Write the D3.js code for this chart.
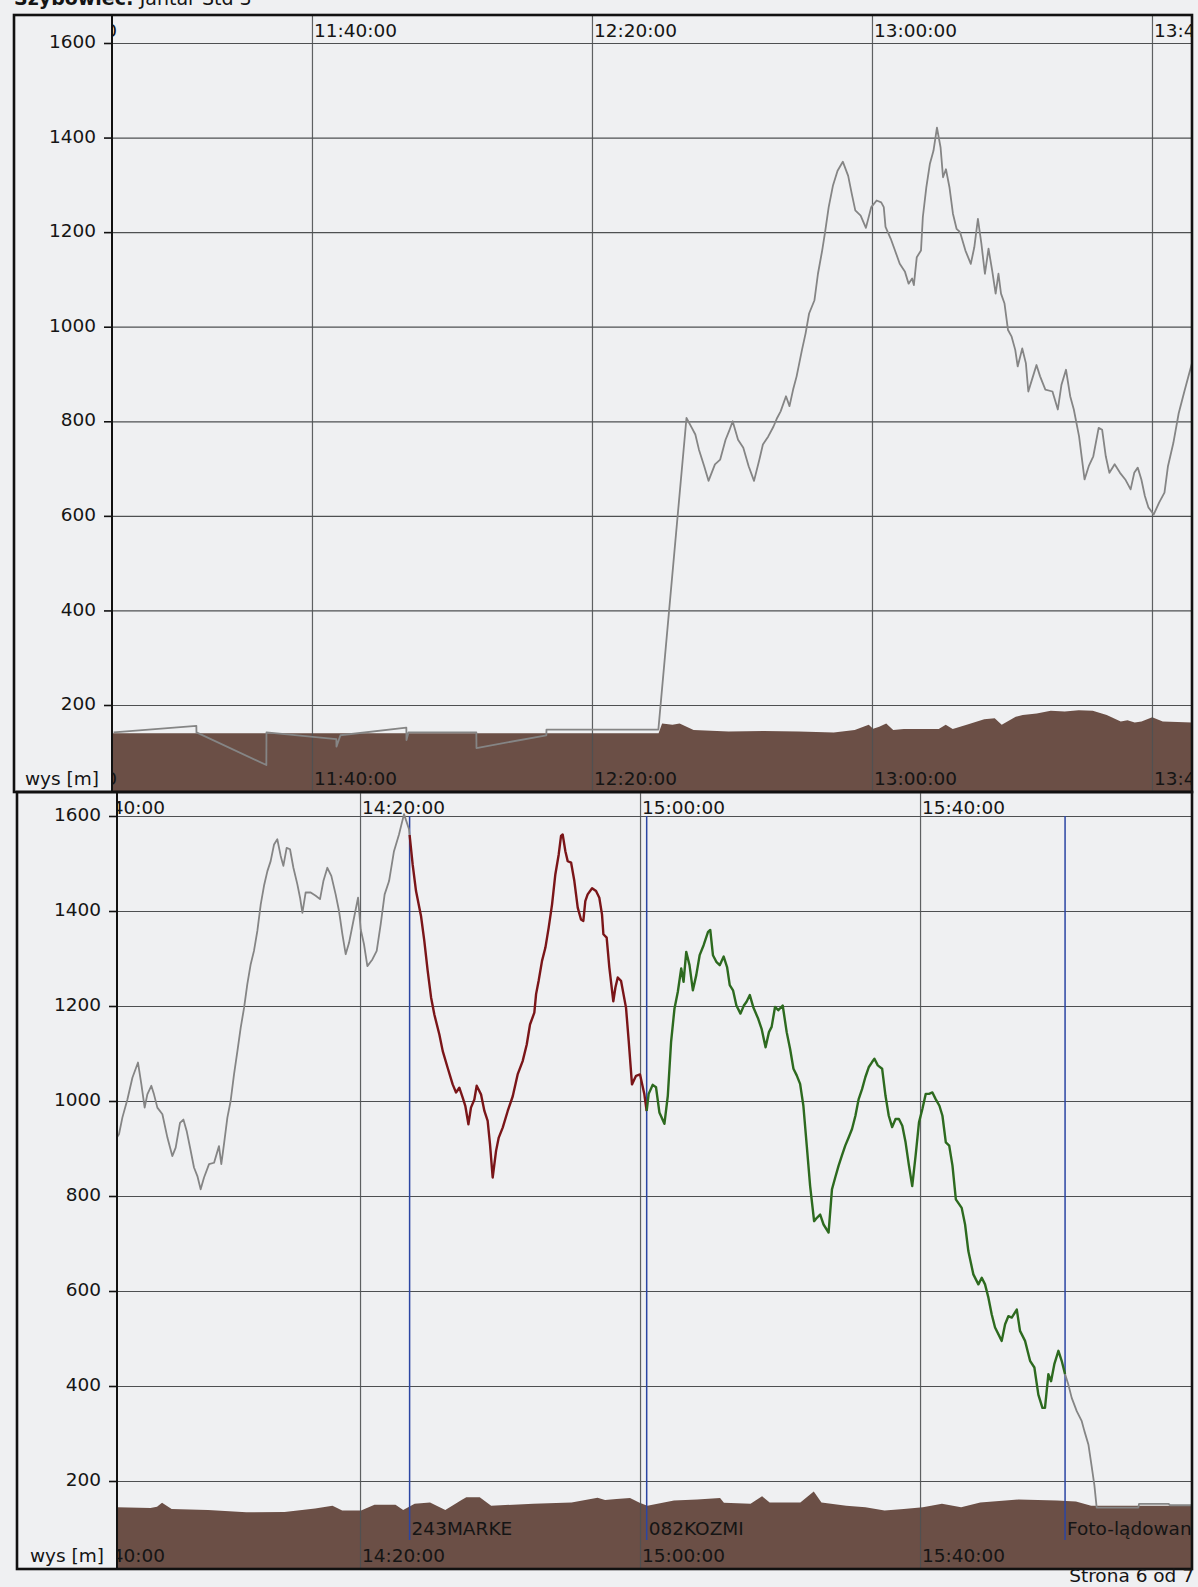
<!DOCTYPE html>
<html><head><meta charset="utf-8">
<script src="https://cdn.jsdelivr.net/npm/d3@7"></script>
<style>
html,body{margin:0;padding:0;background:#eff0f2;}
svg{display:block;}
text{font-family:"DejaVu Sans",sans-serif;fill:#151515;}
</style></head><body>
<svg id="chart" width="1198" height="1587"></svg>
<script>
// ---------------- DATA ----------------
const altTicks = [200, 400, 600, 800, 1000, 1200, 1400, 1600];
const topTimeTicks = ["11:00:00", "11:40:00", "12:20:00", "13:00:00", "13:40:00"];
const bottomTimeTicks = ["13:40:00", "14:20:00", "15:00:00", "15:40:00"];

// top panel: logger on ground, tow and flight (time, altitude m)
const topTrace = [
["11:11:40",142],["11:23:29",156],["11:23:30",142],["11:33:29",73],["11:33:30",142],["11:43:29",128],["11:43:30",112],["11:44:04",136],["11:53:29",152],["11:53:30",126],["11:53:47",142],["12:03:29",142],["12:03:30",109],["12:13:29",136],["12:13:30",148],["12:29:29",148],
["12:33:30",807],["12:34:16",786],["12:34:46",772],["12:35:17",740],["12:36:02",705],["12:36:39",674],["12:37:34",709],["12:38:19",719],["12:39:05",761],["12:39:35",779],["12:40:06",800],["12:40:52",761],["12:41:37",744],["12:42:23",705],["12:43:09",674],["12:43:55",719],["12:44:25",751],["12:45:11",768],["12:45:56",789],["12:46:27",807],["12:46:57",821],["12:47:43",853],["12:48:13",832],["12:48:44",867],["12:49:14",895],["12:50:00",951],["12:50:31",986],["12:51:01",1028],["12:51:47",1056],["12:52:17",1112],["12:52:53",1161],["12:53:18",1200],["12:53:49",1253],["12:54:25",1298],["12:55:05",1330],["12:55:50",1349],["12:56:36",1319],["12:57:07",1281],["12:57:37",1246],["12:58:23",1235],["12:59:08",1209],["12:59:54",1253],["13:00:40",1267],["13:01:19",1263],["13:01:41",1253],["13:01:56",1211],["13:02:41",1186],["13:03:12",1165],["13:03:58",1133],["13:04:43",1116],["13:05:14",1091],["13:05:44",1102],["13:05:59",1088],["13:06:24",1147],["13:07:00",1161],["13:07:16",1232],["13:07:46",1295],["13:08:16",1344],["13:08:47",1372],["13:09:17",1421],["13:09:48",1379],["13:10:09",1316],["13:10:34",1333],["13:11:04",1295],["13:11:34",1239],["13:12:05",1207],["13:12:35",1200],["13:13:21",1161],["13:14:07",1133],["13:14:37",1168],["13:15:08",1228],["13:15:38",1175],["13:16:08",1112],["13:16:39",1165],["13:17:10",1119],["13:17:40",1070],["13:18:04",1112],["13:18:26",1070],["13:18:56",1049],["13:19:26",993],["13:19:57",979],["13:20:28",951],["13:20:49",916],["13:21:28",954],["13:21:59",923],["13:22:20",863],["13:23:00",895],["13:23:30",919],["13:24:01",895],["13:24:46",867],["13:25:47",863],["13:26:33",825],["13:27:04",877],["13:27:43",909],["13:28:19",853],["13:28:50",825],["13:29:35",768],["13:30:22",677],["13:30:58",705],["13:31:37",726],["13:32:23",786],["13:32:53",782],["13:33:24",726],["13:33:55",691],["13:34:40",709],["13:35:26",691],["13:36:11",677],["13:36:57",656],["13:37:28",691],["13:37:58",702],["13:38:29",677],["13:38:59",642],["13:39:29",618],["13:40:15",603],["13:41:01",628],["13:41:47",649],["13:42:17",705],["13:43:03",754],["13:43:49",817],["13:44:34",860],["13:45:20",902],["13:45:45",925]
];

const topTerrain = [
["11:11:00",140],["12:29:31",140],["12:30:01",161],["12:31:30",158],["12:32:31",161],["12:34:31",147],["12:39:31",144],["12:44:32",145],["12:49:32",144],["12:54:32",142],["12:57:32",147],["12:59:32",158],["13:00:10",150],["13:01:02",154],["13:02:02",161],["13:03:02",147],["13:04:32",149],["13:09:32",149],["13:10:32",158],["13:11:32",149],["13:13:32",158],["13:16:02",170],["13:17:32",172],["13:18:32",158],["13:20:32",175],["13:21:32",179],["13:23:32",182],["13:25:32",188],["13:27:32",186],["13:29:32",189],["13:31:32",188],["13:33:32",179],["13:35:32",165],["13:36:30",168],["13:37:32",163],["13:38:30",165],["13:40:02",174],["13:41:32",165],["13:46:00",163]
];

// bottom panel segments
const bottomTraceStart = [
["13:45:20",925],["13:45:34",930],["13:46:03",965],["13:46:46",1003],["13:47:29",1049],["13:48:17",1081],["13:48:46",1035],["13:49:14",986],["13:49:37",1014],["13:50:11",1032],["13:50:34",1014],["13:51:03",986],["13:51:46",972],["13:52:29",923],["13:53:11",884],["13:53:40",902],["13:54:17",954],["13:54:46",961],["13:55:14",937],["13:55:43",902],["13:56:17",860],["13:56:46",842],["13:57:14",814],["13:57:43",839],["13:58:26",867],["13:59:09",870],["13:59:51",905],["14:00:11",867],["14:00:34",909],["14:01:03",965],["14:01:31",1000],["14:02:00",1056],["14:02:29",1105],["14:02:57",1154],["14:03:26",1196],["14:03:54",1246],["14:04:23",1288],["14:04:51",1316],["14:05:20",1358],["14:05:49",1414],["14:06:17",1453],["14:06:46",1484],["14:07:14",1505],["14:07:43",1540],["14:08:11",1551],["14:08:40",1516],["14:09:03",1495],["14:09:31",1533],["14:10:00",1530],["14:10:29",1491],["14:11:03",1456],["14:11:26",1428],["14:11:46",1396],["14:12:14",1439],["14:12:57",1439],["14:13:40",1432],["14:14:17",1425],["14:14:46",1463],["14:15:20",1491],["14:15:54",1474],["14:16:31",1435],["14:17:00",1400],["14:17:29",1351],["14:17:57",1309],["14:18:26",1333],["14:19:03",1379],["14:19:43",1428],["14:20:06",1361],["14:20:34",1330],["14:21:03",1284],["14:21:46",1298],["14:22:23",1316],["14:22:57",1372],["14:23:31",1435],["14:24:09",1463],["14:24:51",1526],["14:25:34",1561],["14:26:17",1604],["14:27:00",1572],["14:27:05",1560]
];

const legOneTrace = [
["14:27:05",1560],["14:27:31",1498],["14:28:00",1442],["14:28:43",1389],["14:29:11",1337],["14:29:40",1274],["14:30:09",1218],["14:30:37",1182],["14:31:20",1140],["14:31:49",1105],["14:32:31",1070],["14:33:14",1035],["14:33:43",1018],["14:34:11",1028],["14:34:40",1007],["14:35:03",989],["14:35:29",951],["14:35:51",986],["14:36:20",1003],["14:36:40",1032],["14:37:17",1014],["14:37:46",979],["14:38:14",958],["14:38:34",909],["14:38:57",839],["14:39:26",895],["14:39:49",923],["14:40:23",944],["14:41:06",979],["14:41:49",1010],["14:42:31",1056],["14:43:14",1084],["14:43:49",1119],["14:44:17",1161],["14:44:54",1186],["14:45:09",1225],["14:45:31",1253],["14:46:00",1295],["14:46:29",1323],["14:46:57",1365],["14:47:26",1414],["14:47:54",1477],["14:48:23",1519],["14:48:43",1558],["14:48:57",1561],["14:49:20",1526],["14:49:40",1505],["14:50:09",1502],["14:50:37",1463],["14:51:06",1407],["14:51:34",1382],["14:51:54",1379],["14:52:11",1421],["14:52:31",1435],["14:53:09",1448],["14:53:43",1442],["14:54:11",1428],["14:54:34",1393],["14:54:46",1351],["14:55:14",1344],["14:55:37",1281],["14:56:11",1210],["14:56:29",1239],["14:56:49",1260],["14:57:17",1253],["14:58:00",1196],["14:58:23",1126],["14:58:51",1035],["14:59:26",1053],["15:00:00",1056],["15:00:37",1014],["15:00:57",979]
];

const legTwoTrace = [
["15:00:57",979],["15:01:14",1015],["15:01:49",1034],["15:02:17",1029],["15:02:46",976],["15:03:29",952],["15:03:58",1011],["15:04:26",1124],["15:04:55",1194],["15:05:24",1230],["15:05:53",1279],["15:06:13",1251],["15:06:36",1314],["15:07:04",1286],["15:07:33",1233],["15:08:02",1265],["15:08:31",1307],["15:09:05",1328],["15:09:43",1356],["15:10:02",1360],["15:10:25",1307],["15:10:54",1293],["15:11:23",1286],["15:11:57",1304],["15:12:26",1282],["15:12:49",1244],["15:13:17",1233],["15:13:46",1201],["15:14:21",1184],["15:14:50",1201],["15:15:13",1209],["15:15:41",1223],["15:16:10",1198],["15:16:53",1173],["15:17:22",1152],["15:17:56",1113],["15:18:25",1145],["15:18:48",1156],["15:19:17",1198],["15:19:45",1191],["15:20:23",1201],["15:20:57",1145],["15:21:26",1110],["15:21:55",1068],["15:22:23",1054],["15:22:52",1036],["15:23:20",990],["15:23:49",906],["15:24:18",821],["15:24:52",747],["15:25:16",754],["15:25:44",761],["15:26:13",740],["15:26:56",723],["15:27:25",814],["15:27:53",839],["15:28:22",864],["15:28:50",885],["15:29:19",906],["15:29:48",923],["15:30:17",941],["15:30:46",969],["15:31:14",1004],["15:31:43",1025],["15:32:11",1050],["15:32:40",1071],["15:33:09",1082],["15:33:29",1089],["15:33:58",1075],["15:34:35",1068],["15:35:04",1011],["15:35:32",969],["15:36:01",945],["15:36:30",962],["15:36:59",962],["15:37:28",948],["15:37:56",913],["15:38:25",864],["15:38:53",821],["15:39:22",885],["15:39:51",955],["15:40:20",983],["15:40:49",1015],["15:41:17",1015],["15:41:46",1018],["15:42:14",1004],["15:42:46",990],["15:43:12",969],["15:43:41",913],["15:44:10",906],["15:44:38",864],["15:45:07",793],["15:45:57",775],["15:46:26",740],["15:46:54",684],["15:47:37",635],["15:48:20",614],["15:48:49",628],["15:49:17",614],["15:49:46",586],["15:50:14",551],["15:50:43",523],["15:51:40",495],["15:52:09",530],["15:52:37",547],["15:53:06",544],["15:53:49",561],["15:54:17",516],["15:55:00",495],["15:55:43",453],["15:56:20",439],["15:56:54",382],["15:57:29",354],["15:57:51",354],["15:58:20",425],["15:58:43",410],["15:59:11",446],["15:59:46",474],["16:00:14",453],["16:00:43",425]
];

const landingTrace = [
["16:00:43",425],["16:01:11",403],["16:01:40",375],["16:02:23",347],["16:03:06",326],["16:03:29",305],["16:04:03",277],["16:04:31",231],["16:04:54",192],["16:05:14",144],["16:11:11",144],["16:11:17",152],["16:15:29",152],["16:15:43",149],["16:19:00",149]
];

const bottomTerrain = [
["13:45:00",145],["13:50:04",143],["13:51:00",146],["13:51:43",154],["13:53:05",141],["13:58:17",139],["14:03:45",134],["14:09:13",135],["14:13:35",142],["14:16:04",148],["14:17:27",138],["14:20:09",138],["14:22:04",150],["14:25:04",150],["14:26:10",139],["14:27:48",152],["14:30:00",155],["14:32:11",139],["14:34:30",160],["14:35:11",166],["14:37:06",166],["14:38:44",148],["14:44:45",152],["14:50:13",155],["14:53:56",165],["14:55:00",160],["14:56:38",162],["14:58:34",164],["14:59:56",154],["15:01:03",148],["15:04:51",159],["15:08:09",161],["15:11:26",164],["15:11:59",154],["15:15:47",152],["15:17:26",168],["15:18:31",155],["15:22:54",155],["15:24:49",178],["15:25:55",155],["15:29:28",148],["15:32:12",145],["15:34:56",138],["15:37:40",141],["15:40:24",145],["15:43:08",152],["15:45:52",145],["15:48:36",155],["15:54:04",161],["15:59:32",159],["16:02:16",157],["16:04:27",148],["16:10:28",148],["16:19:30",148]
];

const markerNames = ["243MARKE", "082KOZMI", "Foto-lądowanie"];
const markerTimes = ["14:27:05", "15:00:57", "16:00:43"];

const headerBold = "Szybowiec:";
const headerText = " Jantar Std 3";
const yAxisTitle = "wys [m]";
const pageFooter = "Strona 6 od 7";

// ---------------- DRAWING ----------------
const parseT = d3.timeParse("%H:%M:%S");
const svg = d3.select("#chart");
const gridColor = "#4e5052";
const textSize = 18.5;

// keep only the characters of a text that fall inside [left, right] (the rest is clipped anyway)
function trimToPlot(sel, left, right) {
  sel.each(function () {
    const node = this;
    const full = node.textContent;
    const x0 = +node.getAttribute("x");
    const n = full.length;
    let start = 0;
    while (start < n && x0 + node.getSubStringLength(0, start + 1) <= left) start++;
    if (start >= n) { node.remove(); return; }
    let end = n;
    while (end > start + 1 && x0 + node.getSubStringLength(0, end - 1) >= right) end--;
    const newX = x0 + (start > 0 ? node.getSubStringLength(0, start) : 0);
    node.textContent = full.slice(start, end);
    node.setAttribute("x", newX);
  });
}

const panels = [
  { id: "top", outerLeft: 14, top: 15, bottom: 792, left: 112, right: 1192,
    timeDomain: ["11:11:26", "13:45:43"], y200: 705, y1600: 43,
    timeTicks: topTimeTicks, terrain: topTerrain,
    traces: [{ data: topTrace, color: "#858585", width: 1.8 }],
    markers: false },
  { id: "bot", outerLeft: 17, top: 792, bottom: 1569, left: 117, right: 1192,
    timeDomain: ["13:45:17", "16:18:51"], y200: 1481, y1600: 816,
    timeTicks: bottomTimeTicks, terrain: bottomTerrain,
    traces: [
      { data: bottomTraceStart, color: "#858585", width: 1.8 },
      { data: legOneTrace, color: "#7a1518", width: 2.4 },
      { data: legTwoTrace, color: "#2d6a1f", width: 2.4 },
      { data: landingTrace, color: "#858585", width: 1.8 }
    ],
    markers: true }
];

panels.forEach(cfg => {
  const x = d3.scaleTime().domain(cfg.timeDomain.map(parseT)).range([cfg.left, cfg.right]);
  const y = d3.scaleLinear().domain([200, 1600]).range([cfg.y200, cfg.y1600]);
  const w = cfg.right - cfg.left, h = cfg.bottom - cfg.top;
  const clipId = "clip-" + cfg.id;
  svg.append("clipPath").attr("id", clipId).append("rect")
    .attr("x", cfg.left).attr("y", cfg.top).attr("width", w).attr("height", h);
  const plot = svg.append("g").attr("clip-path", `url(#${clipId})`);

  // terrain
  const area = d3.area().x(d => x(parseT(d[0]))).y0(cfg.bottom).y1(d => y(d[1]));
  plot.append("path").datum(cfg.terrain).attr("d", area).attr("fill", "#6b4f46");

  // horizontal grid
  plot.append("g").attr("transform", `translate(${cfg.left},0)`)
    .call(d3.axisLeft(y).tickValues(altTicks).tickSize(-w).tickFormat(""))
    .call(a => a.select(".domain").remove())
    .selectAll("line").attr("stroke", gridColor).attr("stroke-width", 1.2);

  // vertical grid
  plot.append("g").attr("transform", `translate(0,${cfg.bottom})`)
    .call(d3.axisBottom(x).tickValues(cfg.timeTicks.map(parseT)).tickSize(-h).tickFormat(""))
    .call(a => a.select(".domain").remove())
    .selectAll("line").attr("stroke", gridColor).attr("stroke-width", 1.2).attr("stroke-opacity", 0.9);

  // markers
  if (cfg.markers) {
    const mk = plot.append("g");
    mk.selectAll("line").data(markerTimes).join("line")
      .attr("x1", d => x(parseT(d))).attr("x2", d => x(parseT(d)))
      .attr("y1", y(1600)).attr("y2", cfg.bottom - 29)
      .attr("stroke", "#2b45a3").attr("stroke-width", 1.5);
    const mt = mk.selectAll("text").data(markerTimes).join("text")
      .attr("x", d => x(parseT(d)) + 2).attr("y", cfg.bottom - 34)
      .attr("font-size", textSize)
      .text((d, i) => markerNames[i]);
    trimToPlot(mt, cfg.left, cfg.right);
  }

  // traces
  const line = d3.line().x(d => x(parseT(d[0]))).y(d => y(d[1]));
  cfg.traces.forEach(t => {
    plot.append("path").datum(t.data).attr("d", line)
      .attr("fill", "none").attr("stroke", t.color)
      .attr("stroke-width", t.width).attr("stroke-linejoin", "round");
  });

  // time labels top and bottom (clipped)
  const tl = plot.append("g").attr("font-size", textSize);
  const tt = tl.selectAll("text.tt").data(cfg.timeTicks).join("text").attr("class", "tt")
    .attr("x", d => x(parseT(d)) + 2).attr("y", cfg.top + 22)
    .text(d => d);
  const tb = tl.selectAll("text.tb").data(cfg.timeTicks).join("text").attr("class", "tb")
    .attr("x", d => x(parseT(d)) + 2).attr("y", cfg.bottom - 7)
    .text(d => d);
  trimToPlot(tt, cfg.left, cfg.right);
  trimToPlot(tb, cfg.left, cfg.right);

  // y axis with ticks and labels
  const ya = svg.append("g").attr("transform", `translate(${cfg.left},0)`)
    .call(d3.axisLeft(y).tickValues(altTicks).tickSize(8).tickPadding(8).tickFormat(d3.format("d")));
  ya.select(".domain").remove();
  ya.selectAll("line").attr("stroke", "#111").attr("stroke-width", 1.6);
  ya.selectAll("text").attr("font-size", textSize).attr("font-family", "DejaVu Sans")
    .attr("fill", "#151515").attr("dy", "0.25em");

  // axis title
  svg.append("text").attr("x", cfg.left - 13).attr("y", cfg.bottom - 7)
    .attr("text-anchor", "end").attr("font-size", textSize).text(yAxisTitle);

  // borders
  svg.append("line").attr("x1", cfg.left).attr("x2", cfg.left)
    .attr("y1", cfg.top).attr("y2", cfg.bottom).attr("stroke", "#111").attr("stroke-width", 2);
  svg.append("rect").attr("x", cfg.outerLeft).attr("y", cfg.top)
    .attr("width", cfg.right - cfg.outerLeft).attr("height", h)
    .attr("fill", "none").attr("stroke", "#111").attr("stroke-width", 2.6);
});

// header (cut at the page top, as on the scanned page) and footer
const hdr = svg.append("text").attr("x", 14).attr("y", 5).attr("font-size", 19);
hdr.append("tspan").attr("font-weight", "bold").text(headerBold);
hdr.append("tspan").text(headerText);

svg.append("text").attr("x", 1194).attr("y", 1582).attr("text-anchor", "end")
  .attr("font-size", textSize).text(pageFooter);
</script>
</body></html>
